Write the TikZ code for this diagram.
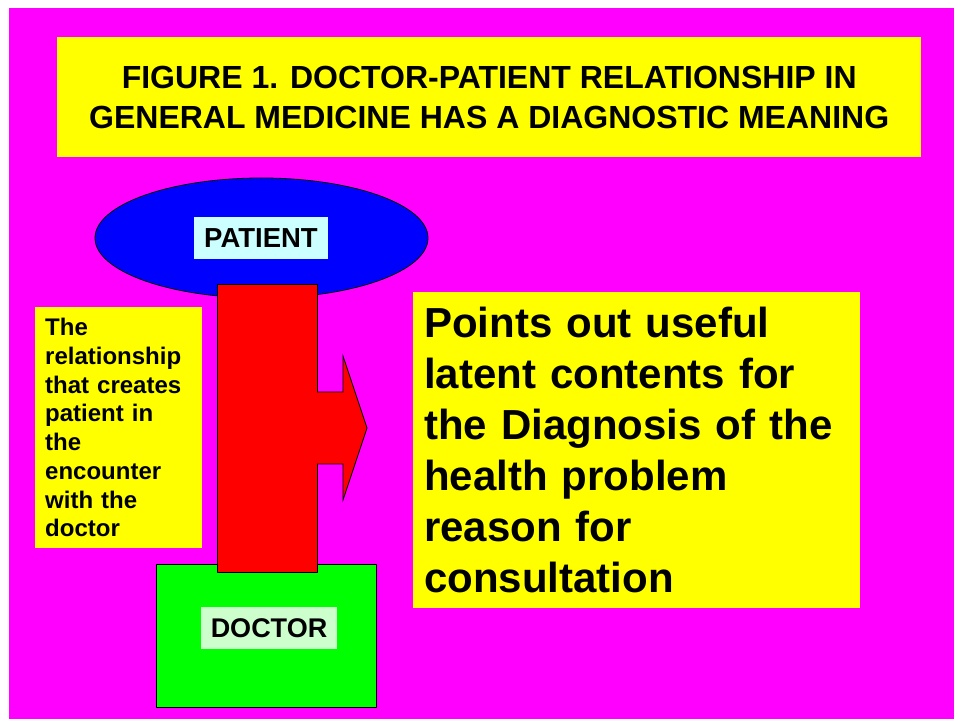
\documentclass[tikz,border=0pt]{standalone}
\usepackage{fontspec}
\setmainfont{Liberation Sans}
\usetikzlibrary{shapes.geometric}
\definecolor{bgmag}{HTML}{FF00FF}
\definecolor{ylw}{HTML}{FFFF00}
\definecolor{blu}{HTML}{0000FF}
\definecolor{rd}{HTML}{FF0000}
\definecolor{grn}{HTML}{00FF00}
\definecolor{lcyan}{HTML}{CCFFFF}
\definecolor{lgreen}{HTML}{CCFFCC}
\tikzset{
  ybox/.style={fill=ylw, draw=none, inner sep=0pt, anchor=north west, font=\bfseries},
  lbl/.style={inner sep=0pt, font=\fontsize{27}{30}\selectfont\bfseries},
  outl/.style={draw=black, line width=0.8pt},
}
\begin{document}
\begin{tikzpicture}[x=1pt,y=-1pt]
\useasboundingbox (0,0) rectangle (954,719);
\fill[bgmag] (9,8) rectangle (954,719);
% title
\node[ybox, minimum width=864pt, minimum height=120pt, align=center,
      font=\fontsize{32}{40}\selectfont\bfseries] (title) at (57,37)
  {FIGURE 1. DOCTOR-PATIENT RELATIONSHIP IN\\GENERAL MEDICINE HAS A DIAGNOSTIC MEANING};
% doctor
\node[outl, fill=grn, minimum width=220pt, minimum height=143pt, inner sep=0pt, anchor=north west] (doctor) at (156,564) {};
\node[lbl, fill=lgreen, minimum width=136pt, minimum height=42pt] (doctorlbl) at (269,628) {DOCTOR};
% patient
\node[outl, fill=blu, ellipse, minimum width=333pt, minimum height=120pt, inner sep=0pt] (patient) at (261.5,238) {};
\node[lbl, fill=lcyan, minimum width=134pt, minimum height=42pt, font=\fontsize{27.5}{30}\selectfont\bfseries] (patientlbl) at (261,238) {PATIENT};
% left text box
\node[ybox, minimum width=167pt, minimum height=241pt, text width=147pt, inner xsep=10pt, align=left,
      font=\fontsize{24}{28.7}\selectfont\bfseries] (rel) at (35,307)
  {The\\relationship\\that creates\\patient in\\the\\encounter\\with the\\doctor};
% right text box
\node[ybox, minimum width=447pt, minimum height=316pt, text width=425pt, inner xsep=11pt, align=left,
      font=\fontsize{42}{51}\selectfont\bfseries] (points) at (413,292)
  {Points out useful\\latent contents for\\the Diagnosis of the\\health problem\\reason for\\consultation};
% red bar
\node[outl, fill=rd, minimum width=100pt, minimum height=288pt, inner sep=0pt, anchor=north west] (bar) at (217,284) {};
\fill[rd] (316,392) -- (343,392) -- (343,356) -- (367,428) -- (343,500) -- (343,464) -- (316,464) -- cycle;
\draw[line width=0.8pt] (317,392) -- (343,392) -- (343,356) -- (367,428) -- (343,500) -- (343,464) -- (317,464);
\end{tikzpicture}
\end{document}
